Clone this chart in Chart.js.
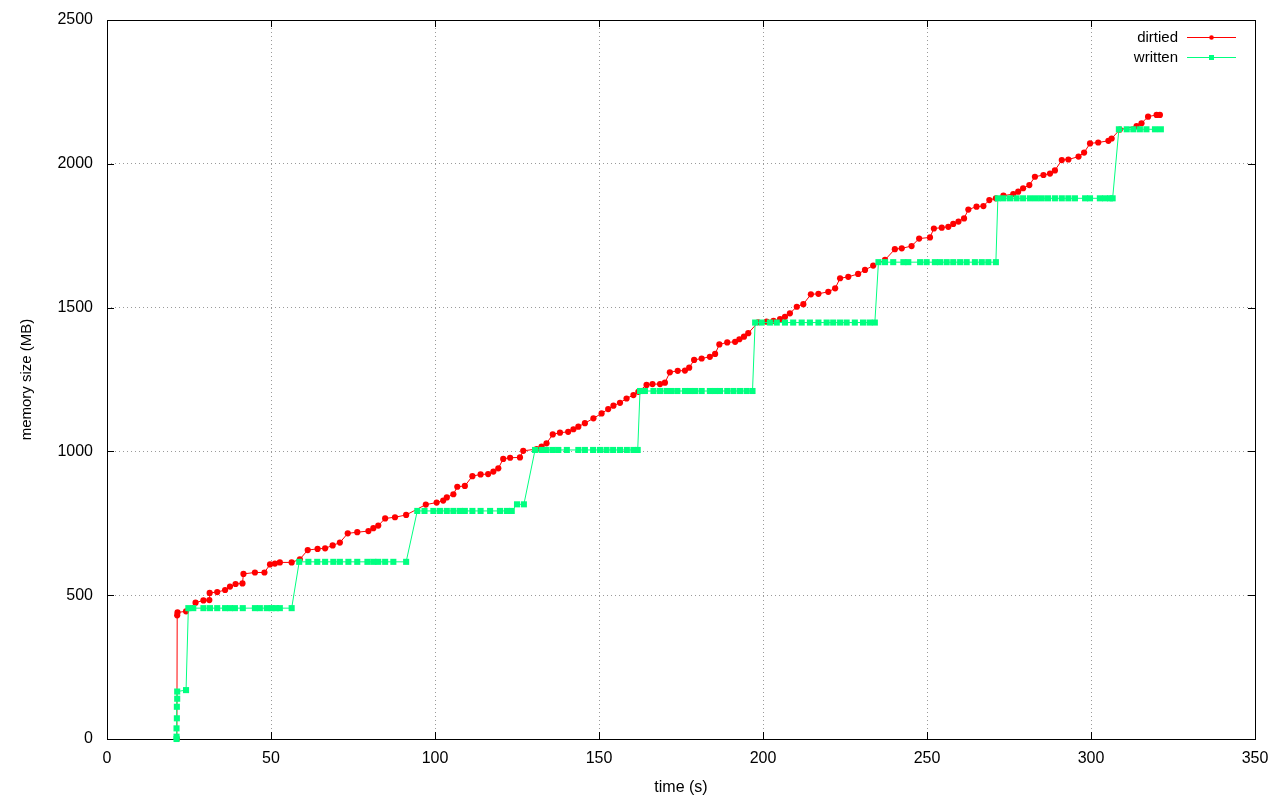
<!DOCTYPE html>
<html>
<head>
<meta charset="utf-8">
<script src="https://cdn.jsdelivr.net/npm/chart.js@4/dist/chart.umd.min.js"></script>
<style>
html,body{margin:0;padding:0;background:#fff;}
#c{display:block;}
</style>
</head>
<body>
<canvas id="c" width="1280" height="800"></canvas>
<script>
// ---- data ----
const seriesLabels = ["dirtied", "written"];
const xTitle = "time (s)";
const yTitle = "memory size (MB)";
const xTicks = [0, 50, 100, 150, 200, 250, 300, 350];
const yTicks = [0, 500, 1000, 1500, 2000, 2500];

const dirtiedT = [21.3,21.4,21.5,24.1,27.0,29.4,31.2,31.3,33.6,36.0,37.5,39.2,41.3,41.6,45.1,48.0,49.7,51.2,52.7,56.3,
  58.8,61.2,64.2,66.5,68.8,71.0,73.4,76.3,79.7,81.2,82.7,84.8,87.8,91.2,97.2,100.5,102.5,103.6,105.6,106.8,
  109.1,111.4,113.9,116.2,117.8,119.3,120.8,122.9,125.9,126.9,131.0,132.5,134.0,135.9,138.1,140.6,142.2,143.7,145.7,148.3,
  150.8,152.8,154.4,156.4,158.4,160.5,162.0,164.5,166.3,168.6,170.1,171.6,174.0,176.2,177.5,179.0,181.3,183.8,185.4,186.7,
  189.1,191.5,192.8,194.2,195.5,198.5,201.1,203.2,205.2,206.7,208.2,210.3,212.3,214.6,216.9,219.9,222.0,223.5,226.0,229.0,
  231.1,233.6,237.2,240.2,242.3,245.3,247.6,250.9,252.1,254.5,256.5,258.0,259.6,261.3,262.6,265.1,267.2,269.0,271.0,273.3,
  276.3,277.8,279.3,281.2,282.9,285.5,287.5,289.0,291.1,293.1,296.2,297.9,299.7,302.2,305.3,306.3,308.8,313.9,315.4,317.4,
  320.0,321.0];
const dirtiedMB = [0,430,440,444,474,482,483,508,511,518,530,539,541,574,579,579,607,610,614,614,
  625,657,661,663,673,683,715,719,723,733,742,767,771,779,815,822,829,840,851,877,
  880,914,920,921,930,941,974,978,979,1002,1008,1017,1028,1059,1065,1068,1077,1086,1098,1115,
  1132,1147,1159,1169,1184,1196,1207,1231,1234,1234,1239,1275,1280,1281,1291,1318,1323,1329,1339,1372,
  1379,1381,1390,1399,1411,1449,1451,1454,1460,1468,1480,1503,1512,1546,1548,1555,1567,1602,1607,1617,
  1631,1646,1666,1703,1706,1714,1740,1744,1775,1778,1781,1791,1799,1810,1841,1851,1853,1874,1880,1889,
  1895,1903,1915,1926,1955,1961,1966,1977,2013,2015,2025,2039,2071,2074,2080,2088,2119,2131,2141,2164,
  2170,2170];

const writtenT = [21.2,21.2,21.2,21.3,21.3,21.4,21.4,24.1,
  24.8,26.3,29.4,31.4,33.6,36.0,37.5,39.0,41.4,45.1,46.6,48.7,50.2,51.5,52.7,56.3,
  58.6,61.4,64.1,66.5,69.0,71.0,73.6,76.3,79.4,81.2,82.7,84.8,87.3,91.2,
  94.6,96.8,99.5,101.5,103.6,105.6,107.6,109.1,111.4,113.9,116.8,119.8,121.9,123.4,
  125.0,127.1,
  130.5,132.5,134.0,135.9,137.6,140.2,143.7,145.7,148.2,150.3,152.3,154.3,156.4,158.5,160.5,161.8,
  162.5,164.0,166.6,168.6,170.6,172.1,173.9,176.2,177.7,179.3,181.3,183.8,185.4,186.9,189.1,191.0,193.0,195.0,196.8,
  197.6,199.6,202.1,204.2,206.7,209.2,211.8,214.3,216.9,219.4,221.4,223.5,225.5,228.0,230.5,232.5,234.1,
  235.2,237.2,239.7,242.8,244.3,247.9,249.9,252.4,254.0,256.0,258.0,260.1,262.1,264.6,266.7,268.7,271.0,
  271.6,273.3,275.3,277.3,279.3,281.4,283.2,285.0,286.9,289.0,291.1,293.1,295.1,298.2,299.7,302.7,304.3,305.8,306.6,
  308.5,310.9,312.9,314.9,316.9,319.5,321.3];
const writtenMB = [0,8,37,72,112,140,165,170,
  455,455,455,455,455,455,455,455,455,455,455,455,455,455,455,455,
  616,616,616,616,616,616,616,616,616,616,616,616,616,616,
  793,793,793,793,793,793,793,793,793,793,793,793,793,793,
  816,816,
  1005,1005,1005,1005,1005,1005,1005,1005,1005,1005,1005,1005,1005,1005,1005,1005,
  1210,1210,1210,1210,1210,1210,1210,1210,1210,1210,1210,1210,1210,1210,1210,1210,1210,1210,1210,
  1448,1448,1448,1448,1448,1448,1448,1448,1448,1448,1448,1448,1448,1448,1448,1448,1448,
  1658,1658,1658,1658,1658,1658,1658,1658,1658,1658,1658,1658,1658,1658,1658,1658,1658,
  1880,1880,1880,1880,1880,1880,1880,1880,1880,1880,1880,1880,1880,1880,1880,1880,1880,1880,1880,
  2120,2120,2120,2120,2120,2120,2120];

// ---- styles ----
const RED = '#ff0000';
const GREEN = '#00ff80';
const FONT = "'Liberation Sans', Arial, sans-serif";

const toXY = (xs, ys) => xs.map((x, i) => ({x: x, y: ys[i]}));

const frameTicks = {
  id: 'frameTicks',
  beforeDatasetsDraw(chart) {
    const {ctx, chartArea: a, scales} = chart;
    const L = 7;
    ctx.save();
    ctx.strokeStyle = '#000';
    ctx.lineWidth = 1;
    ctx.beginPath();
    xTicks.forEach(v => {
      const px = Math.round(scales.x.getPixelForValue(v)) + 0.5;
      ctx.moveTo(px, a.bottom); ctx.lineTo(px, a.bottom - L);
      ctx.moveTo(px, a.top); ctx.lineTo(px, a.top + L);
    });
    yTicks.forEach(v => {
      const py = Math.round(scales.y.getPixelForValue(v)) + 0.5;
      ctx.moveTo(a.left, py); ctx.lineTo(a.left + L, py);
      ctx.moveTo(a.right, py); ctx.lineTo(a.right - L, py);
    });
    ctx.stroke();
    ctx.strokeRect(Math.round(a.left) + 0.5, Math.round(a.top) + 0.5,
      Math.round(a.right - a.left), Math.round(a.bottom - a.top));
    ctx.restore();
  }
};

const gnuLegend = {
  id: 'gnuLegend',
  afterDraw(chart) {
    const {ctx, chartArea: a} = chart;
    ctx.save();
    ctx.font = "15px " + FONT;
    ctx.textAlign = 'right';
    ctx.textBaseline = 'middle';
    chart.data.datasets.forEach((ds, i) => {
      const y = a.top + 17 + i * 20;
      ctx.fillStyle = '#000';
      ctx.fillText(ds.label, a.right - 77, y + 1);
      const x0 = a.right - 68, x1 = a.right - 19;
      ctx.strokeStyle = ds.borderColor;
      ctx.lineWidth = 1;
      ctx.beginPath();
      ctx.moveTo(x0, y + 0.5); ctx.lineTo(x1, y + 0.5);
      ctx.stroke();
      ctx.fillStyle = ds.borderColor;
      const cx = (x0 + x1) / 2;
      if (ds.pointStyle === 'rect') {
        ctx.fillRect(cx - 2.5, y - 2, 5, 5);
      } else {
        ctx.beginPath(); ctx.arc(cx, y + 0.5, 2.3, 0, Math.PI * 2); ctx.fill();
      }
    });
    ctx.restore();
  }
};

new Chart(document.getElementById('c'), {
  type: 'line',
  data: {
    datasets: [
      {
        label: seriesLabels[0],
        data: toXY(dirtiedT, dirtiedMB),
        borderColor: RED,
        backgroundColor: RED,
        borderWidth: 1,
        pointStyle: 'circle',
        pointRadius: 3.1,
        pointBorderWidth: 0,
        pointBackgroundColor: RED,
        tension: 0,
        clip: false,
        order: 2
      },
      {
        label: seriesLabels[1],
        data: toXY(writtenT, writtenMB),
        borderColor: GREEN,
        backgroundColor: GREEN,
        borderWidth: 1,
        pointStyle: 'rect',
        pointRadius: 4.3,
        pointBorderWidth: 0,
        pointBackgroundColor: GREEN,
        tension: 0,
        clip: false,
        order: 1
      }
    ]
  },
  options: {
    responsive: false,
    animation: false,
    events: [],
    layout: { padding: { left: 0, right: 25, top: 20, bottom: 0 }, autoPadding: false },
    plugins: { legend: { display: false }, tooltip: { enabled: false } },
    scales: {
      x: {
        type: 'linear', min: 0, max: 350,
        afterBuildTicks: s => { s.ticks = xTicks.map(v => ({value: v})); },
        afterFit: s => { s.height = 61; s.paddingLeft = 0; s.paddingRight = 0; },
        ticks: { padding: 10, color: '#000', font: { family: FONT, size: 16 }, maxRotation: 0,
                 callback: v => String(v) },
        grid: { color: '#9a9a9a', lineWidth: 1, drawTicks: false },
        border: { display: false, dash: [1, 3] },
        title: { display: true, text: xTitle, color: '#000', font: { family: FONT, size: 16 }, padding: { top: 0, bottom: 3 } }
      },
      y: {
        type: 'linear', min: 0, max: 2500,
        afterBuildTicks: s => { s.ticks = yTicks.map(v => ({value: v})); },
        afterFit: s => { s.width = 107; s.paddingTop = 0; s.paddingBottom = 0; },
        ticks: { padding: 14, color: '#000', font: { family: FONT, size: 16 },
                 callback: v => String(v) },
        grid: { color: '#9a9a9a', lineWidth: 1, drawTicks: false },
        border: { display: false, dash: [1, 3] },
        title: { display: true, text: yTitle, color: '#000', font: { family: FONT, size: 15 }, padding: { top: 18, bottom: 0 } }
      }
    }
  },
  plugins: [frameTicks, gnuLegend]
});
</script>
</body>
</html>
